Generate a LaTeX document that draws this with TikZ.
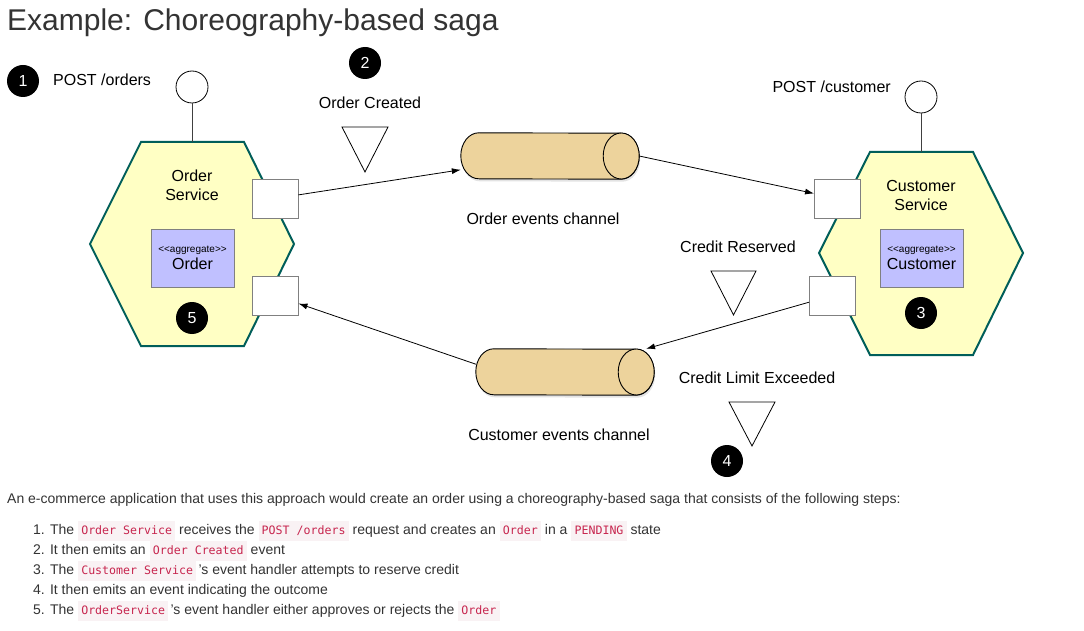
\documentclass[tikz,border=0pt]{standalone}
\usepackage{fontspec}
\setmainfont{Liberation Sans}
\setmonofont{DejaVu Sans Mono}
\usepackage{xcolor}
\usepackage{tikz}
\usetikzlibrary{arrows.meta,shapes.geometric,positioning,calc,shadows}
\definecolor{sgText}{HTML}{333333}
\definecolor{sgHexFill}{HTML}{FFFFC4}
\definecolor{sgHexLine}{HTML}{005E5A}
\definecolor{sgAggFill}{HTML}{C0C0FF}
\definecolor{sgGray}{HTML}{808080}
\definecolor{sgChan}{HTML}{EDD39C}
\definecolor{sgCode}{HTML}{C7254E}
\definecolor{sgCodeBg}{HTML}{F9F2F4}

\newcommand{\codebox}[1]{{\setlength{\fboxsep}{1.6pt}%
  \colorbox{sgCodeBg}{\strut\hspace{1.6pt}\fontsize{11.6}{14}\ttfamily
    \color{sgCode}#1\hspace{1.6pt}}}}
\newcommand{\stereo}{{\fontsize{10}{12}\selectfont
  <\kern0pt<aggregate>\kern0pt>}}
% cylinder drawn round an (invisible) channel node
\newcommand{\drawchan}[1]{%
  \draw[chanbody] ($(#1.north west)+(18,0)$)
      arc[start angle=-90, end angle=-270, x radius=18, y radius=23]
      -- ($(#1.south east)+(-18,0)$)
      arc[start angle=90, end angle=-90, x radius=18, y radius=23]
      -- cycle;
  \draw[chanend] ($(#1.east)+(-18,0)$) ellipse [x radius=18, y radius=23];}

\begin{document}
\begin{tikzpicture}[
  x=1pt, y=-1pt,
  font=\fontsize{16}{19}\selectfont,
  lbl/.style      = {inner sep=0pt, text=black, align=center},
  badge/.style    = {circle, fill=black, text=white, minimum size=32pt,
                     inner sep=0pt},
  iface/.style    = {circle, draw=black, fill=white, minimum size=32pt,
                     inner sep=0pt, line width=0.8pt},
  hexa/.style     = {draw=sgHexLine, fill=sgHexFill, line width=2pt,
                     line join=miter},
  agg/.style      = {draw=sgGray, fill=sgAggFill, minimum width=83pt,
                     minimum height=58pt, inner sep=0pt, align=center,
                     line width=0.9pt},
  port/.style     = {draw=sgGray, fill=white, minimum width=46pt,
                     minimum height=39pt, inner sep=0pt, line width=0.9pt},
  chan/.style     = {rectangle, minimum width=178pt, minimum height=46pt,
                     inner sep=0pt},
  chanbody/.style = {draw=black, fill=sgChan, line width=0.9pt,
                     drop shadow={opacity=0.22, shadow xshift=1pt,
                                  shadow yshift=-2.5pt}},
  chanend/.style  = {draw=black, fill=sgChan, line width=0.9pt},
  msg/.style      = {draw=black, fill=white, line width=0.8pt},
  arr/.style      = {-{Latex[length=9pt, width=6pt]}, line width=0.8pt},
  wire/.style     = {line width=0.9pt, draw=black!75},
  body/.style     = {inner sep=0pt, anchor=base west, text=sgText,
                     font=\fontsize{14}{17}\selectfont},
]
\fill[white] (0,0) rectangle (1084,631);
\useasboundingbox (0,0) rectangle (1084,631);

%── Title ─────────────────────────────────────────────────────────────────────
\node[inner sep=0pt, anchor=base west, text=sgText,
      font=\fontsize{30}{34}\selectfont] (ttl) at (7,31)
    {Example: Choreography-based saga};

%── Order Service ─────────────────────────────────────────────────────────────
\draw[hexa, shift={(192,244)}]
    (-51,-102) -- (52,-102) -- (102,0) -- (52,102) -- (-51,102) -- (-102,0)
    -- cycle;
\coordinate (otop) at (192,142);
\node[lbl] (osvc) at (192,185) {Order\\Service};
\node[agg] (oagg) at (192.5,258) {\stereo\\[-2pt]Order};
\node[badge] (b5) at (192,318) {5};
\node[port] (oportA) at (275,198.5) {};
\node[port] (oportB) at (275,295.5) {};

\node[iface] (oapi) at (192,87) {};
\draw[wire] (oapi) -- (otop);
\node[badge] (b1) at (23,81) {1};
\node[lbl, anchor=base west] (opost) at (53,86) {POST /orders};

%── Customer Service ──────────────────────────────────────────────────────────
\draw[hexa, shift={(921,253)}]
    (-51,-101) -- (52,-101) -- (102,0) -- (52,102) -- (-51,102) -- (-102,0)
    -- cycle;
\coordinate (ctop) at (921,152);
\node[lbl] (csvc) at (921,195) {Customer\\Service};
\node[agg] (cagg) at (921.5,258) {\stereo\\[-2pt]Customer};
\node[badge] (b3) at (921,313) {3};
\node[port] (cportA) at (837.5,198.5) {};
\node[port] (cportB) at (832.5,295.5) {};

\node[iface] (capi) at (921,97) {};
\draw[wire] (capi) -- (ctop);
\node[lbl, anchor=base east] (cpost) at (891,93) {POST /customer};

%── Channels ──────────────────────────────────────────────────────────────────
\node[chan] (ochan) at (550,156) {};
\drawchan{ochan}
\node[lbl] (ochanl) at (543,219) {Order events channel};
\node[chan] (cchan) at (565,372) {};
\drawchan{cchan}
\node[lbl] (cchanl) at (559,435) {Customer events channel};

%── Event flow ────────────────────────────────────────────────────────────────
\draw[arr] (oportA) -- (ochan);
\draw[arr] (ochan.east) -- (cportA);
\draw[arr] (cportB) -- (cchan);
\draw[arr] (cchan.175) -- (oportB);

%── Events ────────────────────────────────────────────────────────────────────
\node[badge] (b2) at (365,63) {2};
\node[lbl] (evcr) at (370,103) {Order Created};
\draw[msg] (342,127) -- (388,127) -- (365,172) -- cycle;

\node[lbl] (evrs) at (738,247) {Credit Reserved};
\draw[msg] (711,271) -- (756,271) -- (733.5,315) -- cycle;

\node[lbl] (evlx) at (757,378) {Credit Limit Exceeded};
\draw[msg] (729,402) -- (775,402) -- (752,446) -- cycle;
\node[badge] (b4) at (727,461) {4};

%── Description ───────────────────────────────────────────────────────────────
\node[body] (intro) at (7,503)
    {An e-commerce application that uses this approach would create an order
     using a choreography-based saga that consists of the following steps:};
\node[body] (item1) at (33,534)
    {1. The \codebox{Order Service} receives the \codebox{POST /orders}
     request and creates an \codebox{Order} in a \codebox{PENDING} state};
\node[body] (item2) at (33,554)
    {2. It then emits an \codebox{Order Created} event};
\node[body] (item3) at (33,574)
    {3. The \codebox{Customer Service}\,'s event handler attempts to reserve
     credit};
\node[body] (item4) at (33,594)
    {4. It then emits an event indicating the outcome};
\node[body] (item5) at (33,614)
    {5. The \codebox{OrderService}\,'s event handler either approves or
     rejects the \codebox{Order}};

\end{tikzpicture}
\end{document}
